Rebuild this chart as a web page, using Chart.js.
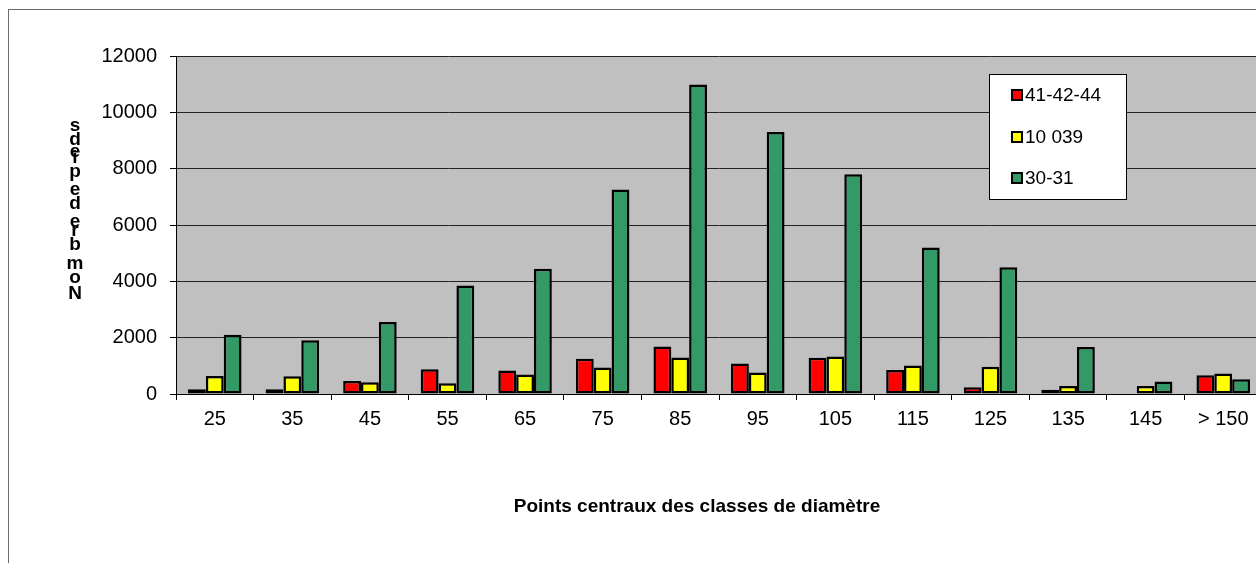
<!DOCTYPE html>
<html>
<head>
<meta charset="utf-8">
<script src="https://cdn.jsdelivr.net/npm/chart.js@4/dist/chart.umd.min.js"></script>
<style>
    html, body { margin: 0; padding: 0; background: #fff; overflow: hidden; }
    #wrap { position: relative; width: 1270px; height: 563px; }
</style>
</head>
<body>
<div id="wrap"><canvas id="diamChart"></canvas></div>
<script>
// Diameter classes (centre points)
const categories = ['25', '35', '45', '55', '65', '75', '85', '95', '105', '115', '125', '135', '145', '> 150'];

// Number of stems per class, one array per series
const seriesNames = ['41-42-44', '10 039', '30-31'];
const stems414244 = [170, 170, 460, 880, 830, 1250, 1690, 1080, 1290, 850, 240, 150, 0, 670];
const stems10039 = [640, 630, 420, 380, 690, 940, 1300, 760, 1330, 1010, 970, 280, 280, 730];
const stems3031 = [2100, 1910, 2560, 3850, 4450, 7260, 10990, 9300, 7800, 5200, 4500, 1670, 440, 520];

const yTicks = [0, 2000, 4000, 6000, 8000, 10000, 12000];

const yTitle = 'Nombre de pieds';
const xTitle = 'Points centraux des classes de diamètre';

const FONT = '"Liberation Sans", Arial, sans-serif';

// Frame, grey plot background, axis titles and the boxed legend
const decorPlugin = {
    id: 'decor',
    beforeDraw(chart) {
        const { ctx, chartArea: a } = chart;
        ctx.save();
        ctx.fillStyle = '#fff';
        ctx.fillRect(0, 0, chart.width, chart.height);
        ctx.strokeStyle = '#6b6b6b';
        ctx.lineWidth = 1;
        ctx.strokeRect(8.5, 9.5, chart.width + 40, chart.height + 40);
        ctx.fillStyle = '#c0c0c0';
        ctx.fillRect(a.left, a.top, a.right - a.left, a.bottom - a.top);
        ctx.restore();
    },
    afterDraw(chart) {
        const { ctx } = chart;
        ctx.save();

        // x title
        ctx.fillStyle = '#000';
        ctx.font = 'bold 19px ' + FONT;
        ctx.textAlign = 'center';
        ctx.textBaseline = 'middle';
        ctx.fillText(xTitle, 697, 507);

        // y title: upright glyphs stepped along the vertical like the source
        ctx.font = 'bold 19px ' + FONT;
        ctx.textBaseline = 'alphabetic';
        let y = 299;
        const chars = yTitle.split('');
        for (let i = 0; i < chars.length; i++) {
            const c = chars[i];
            ctx.fillText(c, 75, y);
            y -= ctx.measureText(c).width * 1.17;
        }

        // legend box
        const lx = 989.5, ly = 74.5, lw = 137, lh = 125;
        ctx.fillStyle = '#fff';
        ctx.fillRect(lx, ly, lw, lh);
        ctx.strokeStyle = '#000';
        ctx.lineWidth = 1;
        ctx.strokeRect(lx, ly, lw, lh);
        const rows = [95, 137, 178];
        ctx.font = '19px ' + FONT;
        ctx.textAlign = 'left';
        ctx.textBaseline = 'middle';
        chart.data.datasets.forEach((ds, i) => {
            ctx.fillStyle = ds.backgroundColor;
            ctx.fillRect(1012, rows[i] - 5, 10, 10);
            ctx.lineWidth = 2;
            ctx.strokeStyle = '#000';
            ctx.strokeRect(1012, rows[i] - 5, 10, 10);
            ctx.fillStyle = '#000';
            ctx.fillText(ds.label, 1025, rows[i] + 1);
        });
        ctx.restore();
    }
};

const barStyle = { borderColor: '#000', borderWidth: 2.5, borderSkipped: false };

new Chart(document.getElementById('diamChart'), {
    type: 'bar',
    data: {
        labels: categories,
        datasets: [
            { label: seriesNames[0], data: stems414244, backgroundColor: '#ff0000', ...barStyle },
            { label: seriesNames[1], data: stems10039, backgroundColor: '#ffff00', ...barStyle },
            { label: seriesNames[2], data: stems3031, backgroundColor: '#339966', ...barStyle }
        ]
    },
    options: {
        responsive: true,
        maintainAspectRatio: false,
        animation: false,
        layout: { padding: { left: 0, top: 56, right: 8, bottom: 0 } },
        datasets: { bar: { categoryPercentage: 0.69, barPercentage: 1 } },
        plugins: {
            legend: { display: false },
            tooltip: { enabled: false }
        },
        scales: {
            x: {
                grid: { display: true, drawOnChartArea: false, drawTicks: true, tickLength: 6, color: '#000', offset: true },
                border: { display: true, color: '#000', width: 1 },
                ticks: { color: '#000', font: { family: FONT, size: 20 }, padding: 7, maxRotation: 0, autoSkip: false },
                afterFit: (s) => { s.height = 563 - 394; }
            },
            y: {
                min: 0,
                max: 12000,
                afterBuildTicks: (s) => { s.ticks = yTicks.map(v => ({ value: v })); },
                grid: { color: '#222', lineWidth: 1, tickLength: 6, tickColor: '#000' },
                border: { display: true, color: '#000', width: 1 },
                ticks: { color: '#000', font: { family: FONT, size: 20 }, padding: 13, callback: (v) => String(v) },
                afterFit: (s) => { s.width = 176; }
            }
        }
    },
    plugins: [decorPlugin]
});
</script>
</body>
</html>
